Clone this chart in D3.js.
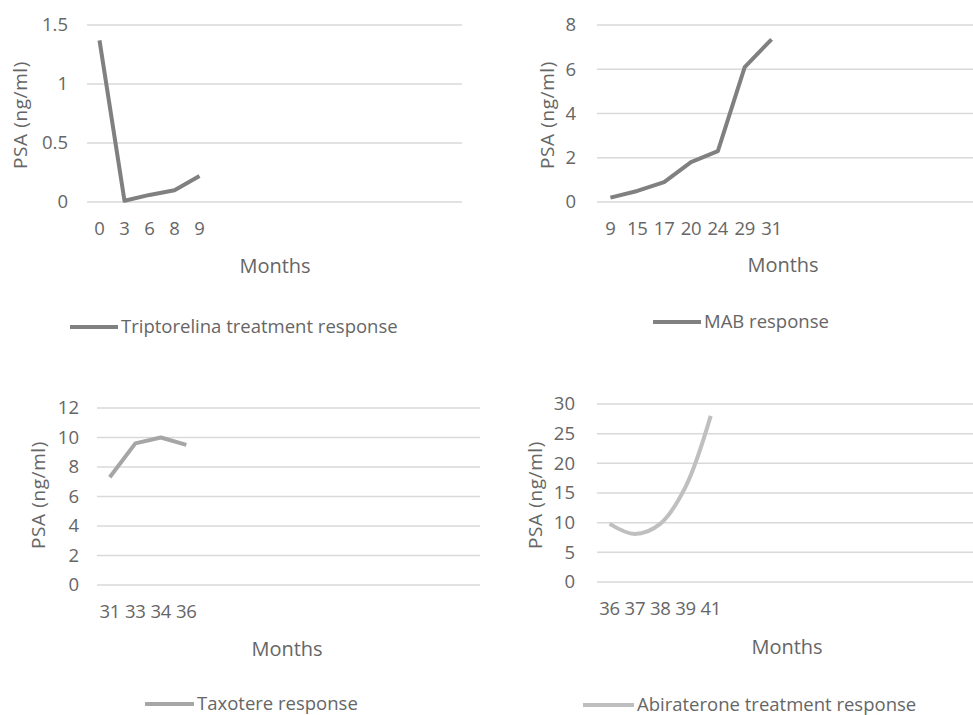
<!DOCTYPE html>
<html>
<head>
<meta charset="utf-8">
<script src="https://cdn.jsdelivr.net/npm/d3@7"></script>
<style>
  html, body { margin: 0; padding: 0; background: #ffffff; }
  svg { display: block; }
  text { font-family: "Open Sans", "DejaVu Sans", sans-serif; fill: #666666; }
</style>
</head>
<body>
<svg id="chart" width="973" height="715"></svg>
<script>
// ---- data ----
const tripMonths = ["0", "3", "6", "8", "9"];
const tripPSA = [1.37, 0.01, 0.06, 0.10, 0.22];
const tripTicks = [0, 0.5, 1, 1.5];
const tripLegend = "Triptorelina treatment response";

const mabMonths = ["9", "15", "17", "20", "24", "29", "31"];
const mabPSA = [0.2, 0.5, 0.9, 1.8, 2.3, 6.1, 7.35];
const mabTicks = [0, 2, 4, 6, 8];
const mabLegend = "MAB response";

const taxMonths = ["31", "33", "34", "36"];
const taxPSA = [7.3, 9.6, 10.0, 9.5];
const taxTicks = [0, 2, 4, 6, 8, 10, 12];
const taxLegend = "Taxotere response";

const abiMonths = ["36", "37", "38", "39", "41"];
const abiPSA = [9.8, 8.1, 9.8, 16, 28];
const abiTicks = [0, 5, 10, 15, 20, 25, 30];
const abiLegend = "Abiraterone treatment response";

const yTitle = "PSA (ng/ml)";
const xTitle = "Months";

// ---- layout ----
const panels = [
  { months: tripMonths, psa: tripPSA, ticks: tripTicks, legend: tripLegend,
    x0: 87, x1: 462, slots: 15, yTop: 25, yBot: 202, color: "#808080", curve: d3.curveLinear,
    tickX: 68, titleX: 20, titleY: 115, xTickY: 229, monthsX: 275, monthsY: 266,
    legLine: [70, 118], legY: 327 },
  { months: mabMonths, psa: mabPSA, ticks: mabTicks, legend: mabLegend,
    x0: 597, x1: 973, slots: 14, yTop: 25, yBot: 202, color: "#808080", curve: d3.curveLinear,
    tickX: 576, titleX: 547, titleY: 115, xTickY: 229, monthsX: 783, monthsY: 265,
    legLine: [653, 701], legY: 322 },
  { months: taxMonths, psa: taxPSA, ticks: taxTicks, legend: taxLegend,
    x0: 97, x1: 480, slots: 15, yTop: 408, yBot: 585, color: "#a6a6a6", curve: d3.curveLinear,
    tickX: 79, titleX: 38, titleY: 495, xTickY: 612, monthsX: 287, monthsY: 649,
    legLine: [145, 194], legY: 704 },
  { months: abiMonths, psa: abiPSA, ticks: abiTicks, legend: abiLegend,
    x0: 597, x1: 976, slots: 15, yTop: 404, yBot: 582, color: "#bfbfbf", curve: d3.curveCatmullRom,
    tickX: 575, titleX: 535, titleY: 495, xTickY: 609, monthsX: 787, monthsY: 647,
    legLine: [583, 634], legY: 705 }
];

const svg = d3.select("#chart");
const FS = 18.5;

panels.forEach(p => {
  const g = svg.append("g");
  const slotDomain = d3.range(p.slots);
  const x = d3.scaleBand().domain(slotDomain).range([p.x0, p.x1]);
  const y = d3.scaleLinear().domain([0, d3.max(p.ticks)]).range([p.yBot, p.yTop]);
  const cx = i => x(i) + x.bandwidth() / 2;

  // gridlines
  g.selectAll("line.grid").data(p.ticks).join("line")
    .attr("x1", p.x0).attr("x2", p.x1)
    .attr("y1", d => y(d)).attr("y2", d => y(d))
    .attr("stroke", "#d9d9d9").attr("stroke-width", 1.5);

  // y tick labels
  g.selectAll("text.ytick").data(p.ticks).join("text")
    .attr("x", p.tickX).attr("y", d => y(d)).attr("dy", "0.35em")
    .attr("text-anchor", "end").attr("font-size", FS)
    .text(d => String(d));

  // x tick labels
  g.selectAll("text.xtick").data(p.months).join("text")
    .attr("x", (d, i) => cx(i)).attr("y", p.xTickY).attr("dy", "0.35em")
    .attr("text-anchor", "middle").attr("font-size", FS)
    .attr("letter-spacing", "-0.3px")
    .text(d => d);

  // y title
  g.append("text")
    .attr("transform", `translate(${p.titleX},${p.titleY}) rotate(-90)`)
    .attr("dy", "0.35em").attr("text-anchor", "middle").attr("font-size", 19)
    .attr("letter-spacing", "0.6px")
    .text(yTitle);

  // x title
  g.append("text")
    .attr("x", p.monthsX).attr("y", p.monthsY).attr("dy", "0.35em")
    .attr("text-anchor", "middle").attr("font-size", 20)
    .text(xTitle);

  // line
  const line = d3.line().x((d, i) => cx(i)).y(d => y(d)).curve(p.curve);
  g.append("path").datum(p.psa)
    .attr("d", line).attr("fill", "none")
    .attr("stroke", p.color).attr("stroke-width", 4)
    .attr("stroke-linejoin", "round").attr("stroke-linecap", "butt");

  // legend
  g.append("line")
    .attr("x1", p.legLine[0]).attr("x2", p.legLine[1])
    .attr("y1", p.legY).attr("y2", p.legY)
    .attr("stroke", p.color).attr("stroke-width", 4);
  g.append("text")
    .attr("x", p.legLine[1] + 3).attr("y", p.legY).attr("dy", "0.35em")
    .attr("font-size", FS)
    .text(p.legend);
});
</script>
</body>
</html>
